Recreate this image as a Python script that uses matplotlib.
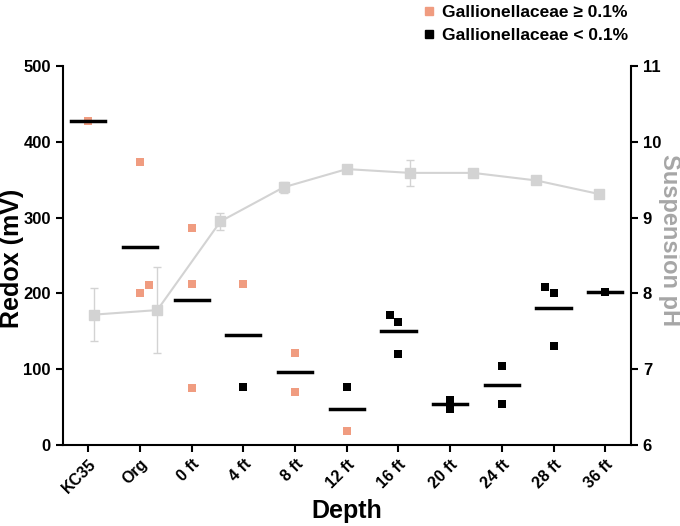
import numpy as np
import matplotlib
matplotlib.use("Agg")
import matplotlib.pyplot as plt
from matplotlib.lines import Line2D

plt.rcParams['font.family'] = ['Liberation Sans', 'DejaVu Sans']
plt.rcParams['font.weight'] = 'bold'

# Depth categories (redox panel)
depths = ["KC35", "Org", "0 ft", "4 ft", "8 ft", "12 ft", "16 ft", "20 ft", "24 ft", "28 ft", "36 ft"]

# Individual redox readings per depth
redox_vals = [
    [427],
    [373, 201, 211],
    [286, 212, 75],
    [213, 77],
    [122, 70],
    [76, 19],
    [171, 162, 120],
    [60, 47],
    [104, 54],
    [209, 201, 131],
    [202],
]
# Gallionellaceae >= 0.1% for each reading
high_gallio = [
    [True],
    [True, True, True],
    [True, True, True],
    [True, False],
    [True, True],
    [False, True],
    [False, False, False],
    [False, False],
    [False, False],
    [False, False, False],
    [False],
]
# small side shift for overlapping points
jitter = [
    [0],
    [0, 0, 0.17],
    [0, 0, 0],
    [0, 0],
    [0, 0],
    [0, 0],
    [-0.17, 0, 0],
    [0, 0],
    [0, 0],
    [-0.17, 0, 0],
    [0],
]

# Suspension pH (separate series, 9 samples)
ph_mean = [7.72, 7.78, 8.95, 9.40, 9.64, 9.59, 9.59, 9.49, 9.31]
ph_err = [0.35, 0.57, 0.11, 0.07, 0.02, 0.17, 0.02, 0.02, 0.02]

orange = '#F09C80'
gray = '#D3D3D3'

fig = plt.figure(figsize=(6.8, 5.26), dpi=100)
ax = fig.add_axes([0.092, 0.154, 0.836, 0.7205])

# pH overlay axis with its own x scale
ax2 = fig.add_axes(ax.get_position())
ax2.patch.set_visible(False)
idx = np.arange(len(ph_mean))
ax2.errorbar(idx, ph_mean, yerr=ph_err, color=gray, marker='s', markersize=7,
             linewidth=1.5, capsize=3, elinewidth=1, zorder=1)
ax2.set_xlim(-0.5, len(ph_mean) - 0.5)
ax2.set_ylim(6, 11)
ax2.xaxis.set_visible(False)
ax2.yaxis.tick_right()
for s in ['top', 'left', 'bottom']:
    ax2.spines[s].set_visible(False)
ax2.spines['right'].set_linewidth(1.5)
ax2.set_yticks([6, 7, 8, 9, 10, 11])
ax2.tick_params(axis='y', direction='out', length=5, width=1.5, labelsize=12)

# redox scatter + mean lines
for i, vals in enumerate(redox_vals):
    for v, h, j in zip(vals, high_gallio[i], jitter[i]):
        ax.scatter(i + j, v, marker='s', s=30, color=orange if h else 'black',
                   linewidths=0, zorder=3)
    m = np.mean(vals)
    ax.plot([i - 0.33, i + 0.33], [m, m], color='black', linewidth=2.5, zorder=4)

ax.set_xlim(-0.5, len(depths) - 0.5)
ax.set_ylim(0, 500)
ax.set_xticks(range(len(depths)))
ax.set_xticklabels(depths, rotation=45, ha='right', rotation_mode='anchor', fontsize=11.5)
ax.set_yticks([0, 100, 200, 300, 400, 500])
ax.tick_params(axis='both', direction='out', length=5, width=1.5, labelsize=12)
ax.tick_params(axis='x', labelsize=11.5)
ax.spines['top'].set_visible(False)
ax.spines['right'].set_visible(False)
ax.spines['left'].set_linewidth(1.5)
ax.spines['bottom'].set_linewidth(1.5)
ax.set_zorder(ax2.get_zorder() + 1)
ax.patch.set_visible(False)

# axis titles
fig.text(12 / 680, 1 - 258 / 526, 'Redox (mV)', rotation=90, ha='center', va='center',
         fontsize=18, fontweight='bold')
fig.text(669 / 680, 1 - 240 / 526, 'Suspension pH', rotation=270, ha='center', va='center',
         fontsize=17, fontweight='bold', color='#A6A6A6')
fig.text(347 / 680, 1 - 511 / 526, 'Depth', ha='center', va='center',
         fontsize=18, fontweight='bold')

handles = [
    Line2D([], [], marker='s', color=orange, linestyle='', markersize=6),
    Line2D([], [], marker='s', color='black', linestyle='', markersize=6),
]
fig.legend(handles, ['Gallionellaceae \u2265 0.1%', 'Gallionellaceae < 0.1%'],
           loc='upper left', bbox_to_anchor=(0.597, 1.02), frameon=False,
           fontsize=12.5, handlelength=0.8, handletextpad=0.4, labelspacing=0.45)

fig.savefig('out.png', dpi=100)
